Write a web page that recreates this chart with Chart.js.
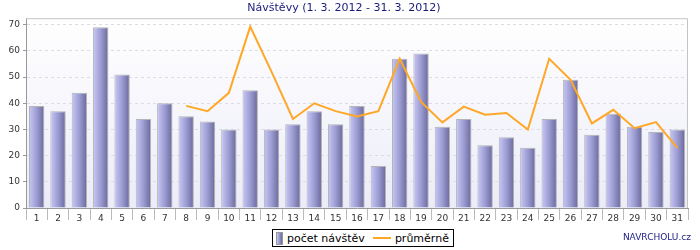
<!DOCTYPE html>
<html>
<head>
<meta charset="utf-8">
<script src="https://cdn.jsdelivr.net/npm/chart.js@4"></script>
<style>
  html,body{margin:0;padding:0;background:#fff;}
  #wrap{position:relative;width:700px;height:250px;font-family:"DejaVu Sans",sans-serif;}
  #legend{position:absolute;left:272px;top:229px;height:16px;border:1px solid #000;padding:0 4px 0 3px;
    display:flex;align-items:center;font-size:11px;color:#000;white-space:nowrap;background:#fff;}
  .sw-bar{display:inline-block;width:5px;height:11px;border:1px solid #999;background:linear-gradient(to right,#c6c6f4,#6a6a9c);margin-right:4px;}
  .sw-line{display:inline-block;width:18px;height:2px;background:#ffa726;margin:0 4px 0 8px;}
  #brand{position:absolute;right:9px;top:232px;font-size:9px;color:#22228a;}
</style>
</head>
<body>
<div id="wrap">
  <canvas id="c" width="700" height="250"></canvas>
  <div id="legend"><span class="sw-bar"></span>počet návštěv<span class="sw-line"></span>průměrně</div>
  <div id="brand">NAVRCHOLU.cz</div>
</div>
<script>
const days = ["1","2","3","4","5","6","7","8","9","10","11","12","13","14","15","16","17","18","19","20","21","22","23","24","25","26","27","28","29","30","31"];
const visits = [39,37,44,69,51,34,40,35,33,30,45,30,32,37,32,39,16,57,59,31,34,24,27,23,34,49,28,36,31,29,30];
const average = [null,null,null,null,null,null,null,39,37,44,69.3,52,34,40,37,35,37,57,40.5,32.7,38.7,35.6,36.3,30,57,49,32.3,37.5,30.5,32.8,23];
const yTicks = [0,10,20,30,40,50,60,70];

const plotBg = {
  id:"plotBg",
  beforeDraw(chart){
    const {ctx,chartArea:a} = chart;
    const g = ctx.createLinearGradient(0,a.top,0,a.bottom);
    g.addColorStop(0,"#ffffff"); g.addColorStop(1,"#ececf9");
    ctx.save(); ctx.fillStyle = g; ctx.fillRect(a.left,a.top,a.right-a.left,a.bottom-a.top); ctx.restore();
  },
  afterDatasetsDraw(chart){
    const {ctx,chartArea:a} = chart;
    ctx.save(); ctx.strokeStyle = "#c4c4c4"; ctx.lineWidth = 1;
    ctx.beginPath(); ctx.moveTo(a.left,a.top+0.5); ctx.lineTo(a.right-0.5,a.top+0.5); ctx.lineTo(a.right-0.5,a.bottom); ctx.stroke();
    ctx.restore();
  }
};

function barFill(c){
  const chart = c.chart, x = chart.scales.x;
  if(!chart.chartArea || !x) return "#9a9ad0";
  const cx = x.getPixelForValue(c.dataIndex), w = (x.right-x.left)/days.length*0.72;
  const g = chart.ctx.createLinearGradient(cx-w/2,0,cx+w/2,0);
  g.addColorStop(0,"#c8c8f6"); g.addColorStop(0.5,"#9c9cd2"); g.addColorStop(1,"#68689a");
  return g;
}

new Chart(document.getElementById("c"),{
  data:{labels:days,datasets:[
    {type:"line",label:"průměrně",data:average,borderColor:"#ffa726",borderWidth:2,pointRadius:0,tension:0,spanGaps:false,order:0},
    {type:"bar",label:"počet návštěv",data:visits,backgroundColor:barFill,borderColor:"#b4b4b4",borderWidth:1,borderSkipped:"bottom",
      categoryPercentage:1,barPercentage:0.72,order:1}
  ]},
  options:{responsive:false,animation:false,
    layout:{padding:{left:0,right:12,top:0,bottom:0}},
    plugins:{legend:{display:false},tooltip:{enabled:false},
      title:{display:true,text:"Návštěvy (1. 3. 2012 - 31. 3. 2012)",color:"#1a1a7a",
        font:{family:"DejaVu Sans",size:11,weight:"normal"},padding:{top:2,bottom:3}}},
    scales:{
      x:{offset:true,grid:{offset:true,drawOnChartArea:false,color:"#bbb",tickLength:12},
        border:{color:"#999"},
        ticks:{color:"#333",font:{family:"DejaVu Sans",size:9},padding:-7,maxRotation:0,autoSkip:false},
        afterFit(s){ s.height = 42; }},
      y:{min:0,max:72.5,
        afterBuildTicks(s){ s.ticks = yTicks.map(v=>({value:v})); },
        grid:{color:c=>c.tick && c.tick.value===0?"rgba(0,0,0,0)":"#dcdce4",tickColor:"#999",tickLength:3},
        border:{color:"#999",dash:[3,3]},
        ticks:{color:"#333",font:{family:"DejaVu Sans",size:9},padding:3},
        afterFit(s){ s.width = 26; }}
    }
  },
  plugins:[plotBg]
});
</script>
</body>
</html>
